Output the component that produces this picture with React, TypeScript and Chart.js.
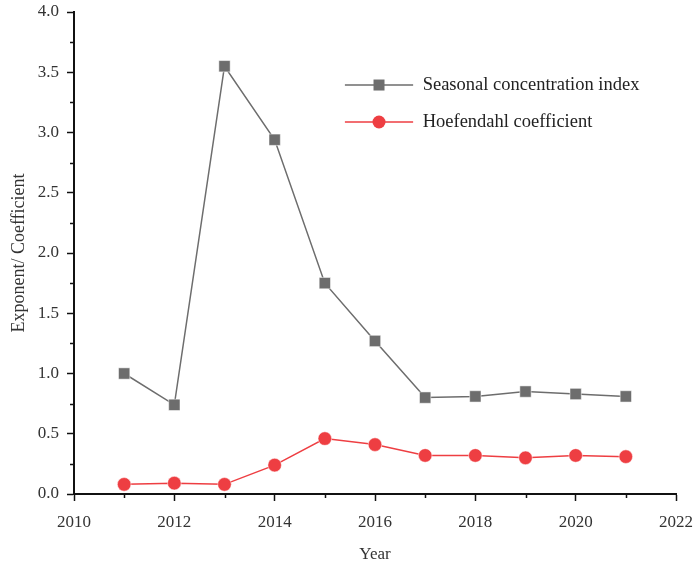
import React, { useEffect, useRef } from "react";
import { Chart, registerables } from "chart.js";

Chart.register(...registerables);

const years = [2011, 2012, 2013, 2014, 2015, 2016, 2017, 2018, 2019, 2020, 2021];
const seasonalIndex = [1.0, 0.74, 3.55, 2.94, 1.75, 1.27, 0.8, 0.81, 0.85, 0.83, 0.81];
const hoefendahl = [0.08, 0.09, 0.08, 0.24, 0.46, 0.41, 0.32, 0.32, 0.3, 0.32, 0.31];
const seriesNames = ["Seasonal concentration index", "Hoefendahl coefficient"];
const xTitle = "Year";
const yTitle = "Exponent/ Coefficient";

const FONT = "'Liberation Serif', 'DejaVu Serif', serif";
const GRAY = "#6d6d6d";
const RED = "#ee3e42";
const AXIS = "#111111";
const TEXT = "#333333";

// Minor tick marks at odd years and at quarter steps on the value axis
const minorTicks = {
  id: "minorTicks",
  afterDraw(chart: any) {
    const { ctx, scales } = chart;
    const x = scales.x;
    const y = scales.y;
    ctx.save();
    ctx.strokeStyle = AXIS;
    ctx.lineWidth = 1.5;
    ctx.beginPath();
    for (let v = 2011; v < 2022; v += 2) {
      const px = Math.round(x.getPixelForValue(v)) + 0.5;
      ctx.moveTo(px, y.bottom);
      ctx.lineTo(px, y.bottom + 4);
    }
    for (let v = 0.25; v < 4; v += 0.5) {
      const py = Math.round(y.getPixelForValue(v)) + 0.5;
      ctx.moveTo(x.left, py);
      ctx.lineTo(x.left - 4, py);
    }
    ctx.stroke();
    ctx.restore();
  },
};

// Legend drawn inside the plot area
const innerLegend = {
  id: "innerLegend",
  afterDraw(chart: any) {
    const { ctx, scales } = chart;
    const x = scales.x;
    const y = scales.y;
    const lx0 = x.getPixelForValue(2015.4);
    const lx1 = x.getPixelForValue(2016.76);
    const tx = x.getPixelForValue(2016.95);
    const rows = [y.getPixelForValue(3.394), y.getPixelForValue(3.087)];
    ctx.save();
    chart.data.datasets.forEach((ds: any, i: number) => {
      const ry = rows[i];
      ctx.strokeStyle = ds.borderColor;
      ctx.lineWidth = 1.5;
      ctx.beginPath();
      ctx.moveTo(lx0, ry);
      ctx.lineTo(lx1, ry);
      ctx.stroke();
      ctx.fillStyle = ds.pointBackgroundColor;
      const mx = (lx0 + lx1) / 2;
      if (ds.pointStyle === "rect") {
        ctx.fillRect(mx - 5.5, ry - 5.5, 11, 11);
      } else {
        ctx.beginPath();
        ctx.arc(mx, ry, 6.5, 0, Math.PI * 2);
        ctx.fill();
      }
      ctx.fillStyle = "#222222";
      ctx.font = `18.5px ${FONT}`;
      ctx.textBaseline = "middle";
      ctx.textAlign = "left";
      ctx.fillText(ds.label, tx, ry);
    });
    ctx.restore();
  },
};

const noPadding = (s: any) => {
  s.paddingLeft = 0;
  s.paddingRight = 0;
  s.paddingTop = 0;
  s.paddingBottom = 0;
};

export default function App() {
  const ref = useRef<HTMLCanvasElement | null>(null);

  useEffect(() => {
    document.body.style.margin = "0";
    const canvas = ref.current;
    if (!canvas) return;
    const chart = new Chart(canvas, {
      type: "line",
      data: {
        datasets: [
          {
            label: seriesNames[0],
            data: years.map((yr, i) => ({ x: yr, y: seasonalIndex[i] })),
            borderColor: GRAY,
            backgroundColor: GRAY,
            pointBackgroundColor: GRAY,
            pointBorderColor: "#ffffff",
            pointBorderWidth: 0.5,
            pointStyle: "rect",
            pointRadius: 8,
            borderWidth: 1.5,
          },
          {
            label: seriesNames[1],
            data: years.map((yr, i) => ({ x: yr, y: hoefendahl[i] })),
            borderColor: RED,
            backgroundColor: RED,
            pointBackgroundColor: RED,
            pointBorderColor: "#ffffff",
            pointBorderWidth: 0.5,
            pointStyle: "circle",
            pointRadius: 6.8,
            borderWidth: 1.5,
          },
        ],
      },
      options: {
        animation: false,
        responsive: false,
        maintainAspectRatio: false,
        layout: { padding: { top: 12, right: 17, left: 0, bottom: 0 } },
        plugins: {
          legend: { display: false },
          tooltip: { enabled: false },
        },
        scales: {
          x: {
            type: "linear",
            min: 2010,
            max: 2022,
            afterFit: (s: any) => {
              s.height = 69;
              noPadding(s);
            },
            ticks: {
              stepSize: 2,
              color: TEXT,
              font: { family: FONT, size: 17 },
              padding: 11,
              maxRotation: 0,
              callback: (v: any) => String(v),
            },
            grid: {
              drawOnChartArea: false,
              tickLength: 7,
              tickWidth: 1.5,
              tickColor: AXIS,
            },
            border: { color: AXIS, width: 2 },
            title: {
              display: true,
              text: xTitle,
              color: TEXT,
              font: { family: FONT, size: 17 },
              padding: { top: 8, bottom: -2 },
            },
          },
          y: {
            min: 0,
            max: 4,
            afterFit: (s: any) => {
              s.width = 74;
              noPadding(s);
            },
            ticks: {
              stepSize: 0.5,
              color: TEXT,
              font: { family: FONT, size: 17 },
              padding: 8,
              callback: (v: any) => Number(v).toFixed(1),
            },
            grid: {
              drawOnChartArea: false,
              tickLength: 7,
              tickWidth: 1.5,
              tickColor: AXIS,
            },
            border: { color: AXIS, width: 2 },
            title: {
              display: true,
              text: yTitle,
              color: TEXT,
              font: { family: FONT, size: 18 },
              padding: { top: 8, bottom: 0 },
            },
          },
        },
      },
      plugins: [minorTicks, innerLegend],
    } as any);
    return () => chart.destroy();
  }, []);

  return (
    <div style={{ width: 693, height: 563 }}>
      <canvas ref={ref} width={693} height={563} style={{ display: "block" }} />
    </div>
  );
}
